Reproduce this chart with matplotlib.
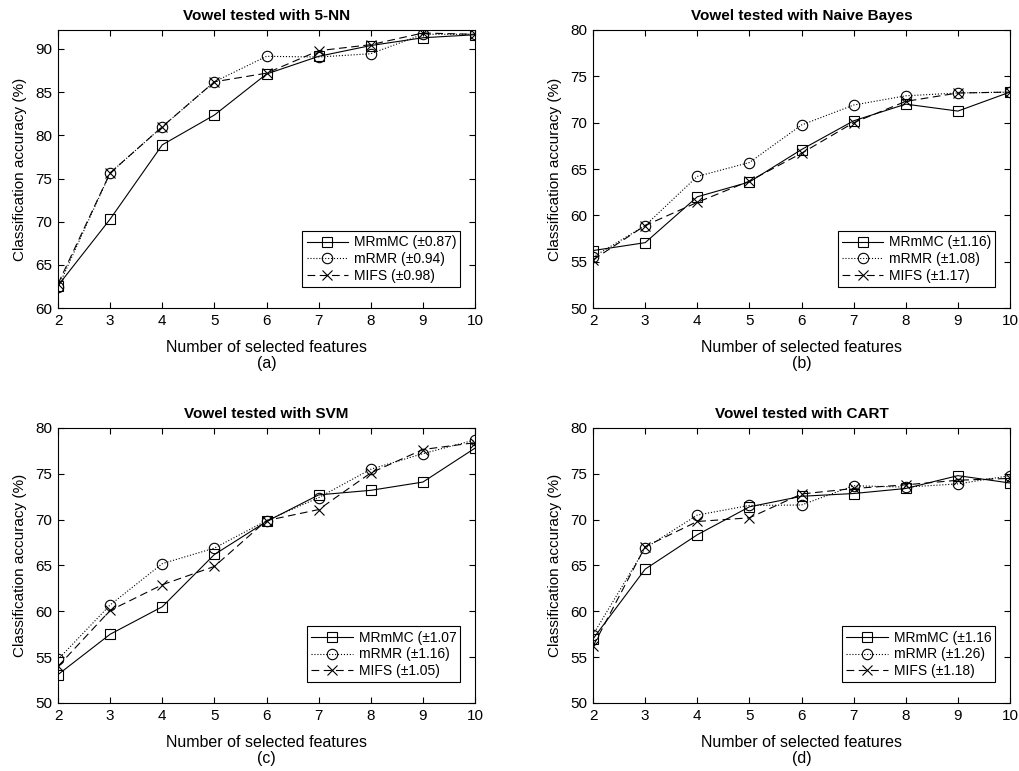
import numpy as np
import matplotlib
matplotlib.use('Agg')
import matplotlib.pyplot as plt

params = {'font.family': 'sans-serif',
          'font.sans-serif': ['Liberation Sans', 'DejaVu Sans'],
          'font.size': 11,
          'axes.linewidth': 0.8,
          'xtick.direction': 'in',
          'ytick.direction': 'in',
          'xtick.top': True,
          'ytick.right': True,
          }
plt.rcParams.update(params)

features = [2, 3, 4, 5, 6, 7, 8, 9, 10]

# (a) 5-NN
knn_mrmmc = [62.6, 70.3, 78.9, 82.35, 87.1, 89.15, 90.4, 91.3, 91.65]
knn_mrmr = [62.4, 75.65, 81.0, 86.2, 89.15, 89.07, 89.45, 91.7, 91.7]
knn_mifs = [62.8, 75.65, 81.0, 86.2, 87.2, 89.8, 90.5, 91.85, 91.7]

# (b) Naive Bayes
nb_mrmmc = [56.2, 57.05, 62.0, 63.6, 67.1, 70.2, 72.0, 71.25, 73.3]
nb_mrmr = [55.5, 58.9, 64.2, 65.7, 69.75, 71.9, 72.9, 73.2, 73.3]
nb_mifs = [55.2, 58.9, 61.4, 63.7, 66.7, 70.0, 72.3, 73.2, 73.3]

# (c) SVM
svm_mrmmc = [53.1, 57.5, 60.5, 66.2, 69.8, 72.7, 73.2, 74.1, 77.8]
svm_mrmr = [54.75, 60.7, 65.2, 66.9, 69.9, 72.4, 75.5, 77.2, 78.7]
svm_mifs = [54.0, 60.1, 62.9, 64.9, 69.9, 71.1, 75.1, 77.65, 78.4]

# (d) CART
cart_mrmmc = [57.0, 64.6, 68.35, 71.4, 72.55, 72.85, 73.4, 74.8, 74.0]
cart_mrmr = [57.45, 66.9, 70.5, 71.55, 71.6, 73.7, 73.55, 73.9, 74.8]
cart_mifs = [56.2, 67.05, 69.8, 70.2, 72.8, 73.4, 73.8, 74.3, 74.5]

panels = [
    ('Vowel tested with 5-NN', knn_mrmmc, knn_mrmr, knn_mifs,
     ['(\u00b10.87)', '(\u00b10.94)', '(\u00b10.98)'], (60, 92.2), np.arange(60, 91, 5), '(a)'),
    ('Vowel tested with Naive Bayes', nb_mrmmc, nb_mrmr, nb_mifs,
     ['(\u00b11.16)', '(\u00b11.08)', '(\u00b11.17)'], (50, 80), np.arange(50, 81, 5), '(b)'),
    ('Vowel tested with SVM', svm_mrmmc, svm_mrmr, svm_mifs,
     ['(\u00b11.07', '(\u00b11.16)', '(\u00b11.05)'], (50, 80), np.arange(50, 81, 5), '(c)'),
    ('Vowel tested with CART', cart_mrmmc, cart_mrmr, cart_mifs,
     ['(\u00b11.16', '(\u00b11.26)', '(\u00b11.18)'], (50, 80), np.arange(50, 81, 5), '(d)'),
]

fig = plt.figure(figsize=(10.2, 7.71), dpi=100)
positions = [[0.0569, 0.6005, 0.4088, 0.3606],
             [0.5814, 0.6005, 0.4088, 0.3606],
             [0.0569, 0.0882, 0.4088, 0.3567],
             [0.5814, 0.0882, 0.4088, 0.3567]]

for pos, (title, a, b, c, errs, ylim, yticks, tag) in zip(positions, panels):
    ax = fig.add_axes(pos)
    ax.plot(features, a, '-', color='k', lw=0.8, marker='s', ms=6.5,
            mfc='none', mew=0.8, label='MRmMC ' + errs[0])
    ax.plot(features, b, ':', color='k', lw=0.8, marker='o', ms=7.5,
            mfc='none', mew=0.8, label='mRMR ' + errs[1])
    ax.plot(features, c, '--', color='k', lw=0.8, marker='x', ms=7,
            mew=0.8, dashes=(7, 4), label='MIFS ' + errs[2])
    ax.set_xlim(2, 10)
    ax.set_ylim(*ylim)
    ax.set_xticks(features)
    ax.set_yticks(yticks)
    ax.set_title(title, fontsize=11, fontweight='bold', pad=7)
    ax.set_xlabel('Number of selected features\n' + tag, fontsize=11.5,
                  labelpad=9, linespacing=1.05)
    ax.set_ylabel('Classification accuracy (%)', fontsize=11, labelpad=6)
    ax.tick_params(labelsize=11, length=4, width=0.8, pad=4)
    leg = ax.legend(loc='lower right', bbox_to_anchor=(0.965, 0.075),
                    fontsize=10, fancybox=False, framealpha=1,
                    edgecolor='k', handlelength=3.0, borderpad=0.3,
                    labelspacing=0.2, handletextpad=0.4, borderaxespad=0)
    leg.get_frame().set_linewidth(0.8)

fig.savefig('out.png', dpi=100)
